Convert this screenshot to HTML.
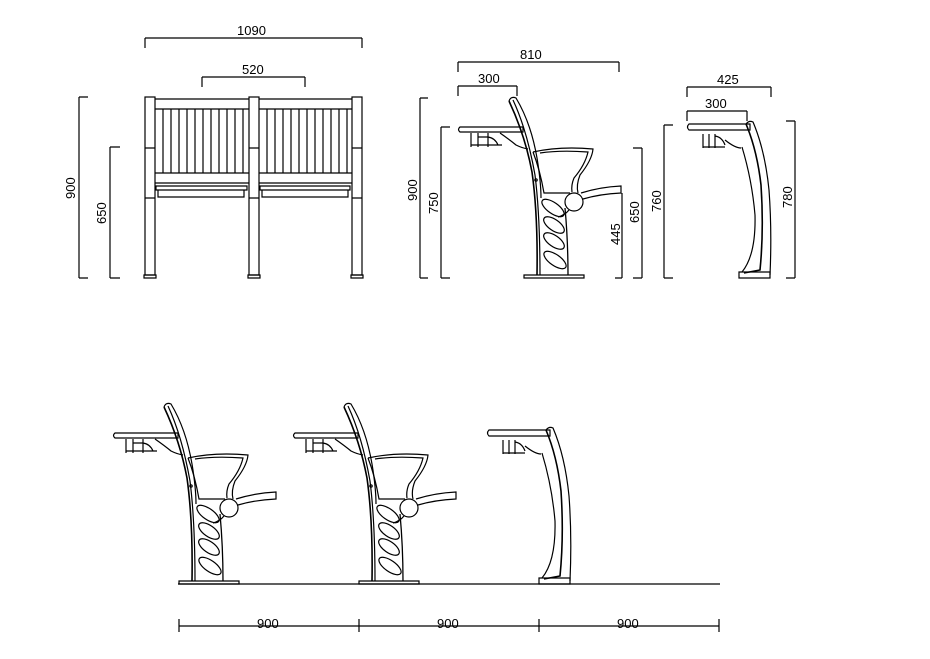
<!DOCTYPE html>
<html><head><style>
html,body{margin:0;padding:0;background:#fff;}
svg{display:block;}
text{font-family:"Liberation Sans",sans-serif;font-size:13px;fill:#000;}
</style></head><body>
<svg width="930" height="659" viewBox="0 0 930 659" xmlns="http://www.w3.org/2000/svg" fill="none" stroke="#000" stroke-width="1.2">
<defs>
<g id="chair">
  <!-- desk -->
  <path d="M460,127 H523 V132 H460 Q457,129.5 460,127 Z"/>
  <path d="M471,133 V147 M478,133 V147 M488,133 V147 M471,145 H502 M478,137 H488 Q495,138 498,145 M500,133 Q510,140 516,145 Q522,148 528,149"/>
  <!-- back / leg -->
  <path d="M509,101 Q511,96 516,98 Q531,123 537,158 Q541,182 541,198"/>
  <path d="M509,101 Q525,135 532,172 Q538,215 537,275" stroke-width="1.6"/>
  <path d="M513,100 Q527,130 535,175 Q540,215 540,275"/>
  <path d="M565,208 Q568,240 568,275" stroke-width="1.3"/>
  <!-- base -->
  <path d="M524,275 H584 V278 H524 Z"/>
  <!-- seat -->
  <path d="M533,152 Q560,146 593,149 Q592,160 580,175 Q576,185 578,193 M533,152 Q540,170 544,193 H570"/>
  <path d="M540,153 Q560,150 588,152 Q585,165 574,178 Q571,185 572,192"/>
  <!-- arm -->
  <path d="M581,193 Q600,187 621,186 V193 Q600,194 583,199"/>
  <circle cx="574" cy="202" r="9"/>
  <path d="M569,210 Q565,215 558,217"/>
  <!-- ovals -->
  <ellipse cx="553" cy="208" rx="13" ry="5.5" transform="rotate(35 553 208)"/>
  <ellipse cx="554" cy="225" rx="12" ry="5.5" transform="rotate(35 554 225)"/>
  <ellipse cx="554" cy="241" rx="12" ry="5.5" transform="rotate(35 554 241)"/>
  <ellipse cx="555" cy="260" rx="13" ry="5.5" transform="rotate(35 555 260)"/>
  <circle cx="536" cy="180" r="1.2"/>
</g>
<g id="desk">
  <path d="M689,124 H750 V130 H689 Q686,127 689,124 Z"/>
  <path d="M703,134 V148 M709,134 V148 M715,134 V148 M703,147 H725 M715,136 Q722,137 725,145 M725,140 Q735,148 741,148"/>
  <path d="M746,124 Q749,120 753,122 Q765,150 769,190 Q772,230 770,275"/>
  <path d="M746,124 Q757,150 761,185 Q764,230 760,270 L744,273" stroke-width="1.6"/>
  <path d="M742,147 Q752,180 755,215 Q756,255 742,272"/>
  <path d="M739,272 H770 V278 H739 Z"/>
</g>
</defs>

<!-- FRONT VIEW -->
<g>
  <rect x="145" y="97" width="10" height="178"/>
  <rect x="249" y="97" width="10" height="178"/>
  <rect x="352" y="97" width="10" height="178"/>
  <path d="M144,275 H156 V278 H144Z M248,275 H260 V278 H248Z M351,275 H363 V278 H351Z"/>
  <path d="M145,148 H155 M249,148 H259 M352,148 H362 M145,198 H155 M249,198 H259 M352,198 H362"/>
  <path d="M155,99 H249 M155,109 H249 M155,173 H249 M155,183 H249 M259,99 H352 M259,109 H352 M259,173 H352 M259,183 H352"/>
  <path d="M163,109V173 M171,109V173 M179,109V173 M187,109V173 M195,109V173 M203,109V173 M211,109V173 M219,109V173 M227,109V173 M235,109V173 M243,109V173
           M267,109V173 M275,109V173 M283,109V173 M291,109V173 M299,109V173 M307,109V173 M315,109V173 M323,109V173 M331,109V173 M339,109V173 M347,109V173"/>
  <path d="M156,186 H247 V190 H156Z M158,190 H244 V197 H158Z M260,186 H350 V190 H260Z M262,190 H348 V197 H262Z"/>
</g>

<!-- dims front -->
<path d="M145,38 H362 M145,38 V48 M362,38 V48 M202,77 H305 M202,77 V87 M305,77 V87 M79,97 V278 M79,97 H88 M79,278 H88 M110,147 V278 M110,147 H120 M110,278 H120"/>
<text x="237" y="35" stroke="none">1090</text>
<text x="242" y="74" stroke="none">520</text>
<text stroke="none" transform="translate(75,199) rotate(-90)">900</text>
<text stroke="none" transform="translate(106,224) rotate(-90)">650</text>

<!-- side chair top -->
<use href="#chair"/>
<path d="M458,62 H619 M458,62 V72 M619,62 V72 M458,86 H517 M458,86 V96 M517,86 V96 M420,98 V278 M420,98 H428 M420,278 H428 M441,127 V278 M441,127 H450 M441,278 H450 M642,148 V278 M642,148 H633 M642,278 H633 M622,193 V278 M622,278 H615"/>
<text x="520" y="59" stroke="none">810</text>
<text x="478" y="83" stroke="none">300</text>
<text stroke="none" transform="translate(417,201) rotate(-90)">900</text>
<text stroke="none" transform="translate(438,214) rotate(-90)">750</text>
<text stroke="none" transform="translate(639,223) rotate(-90)">650</text>
<text stroke="none" transform="translate(620,245) rotate(-90)">445</text>

<!-- desk-only top -->
<use href="#desk"/>
<path d="M687,87 H771 M687,87 V97 M771,87 V97 M687,111 H747 M687,111 V121 M747,111 V121 M664,125 V278 M664,125 H673 M664,278 H673 M795,121 V278 M795,121 H786 M795,278 H786"/>
<text x="717" y="84" stroke="none">425</text>
<text x="705" y="108" stroke="none">300</text>
<text stroke="none" transform="translate(661,212) rotate(-90)">760</text>
<text stroke="none" transform="translate(792,208) rotate(-90)">780</text>

<!-- bottom row -->
<use href="#chair" transform="translate(-345,306)"/>
<use href="#chair" transform="translate(-165,306)"/>
<use href="#desk" transform="translate(-200,306)"/>
<path d="M178,584 H720"/>
<path d="M179,626 H719 M179,619 V632 M359,619 V632 M539,619 V632 M719,619 V632"/>
<text x="257" y="628" stroke="none">900</text>
<text x="437" y="628" stroke="none">900</text>
<text x="617" y="628" stroke="none">900</text>
</svg>
</body></html>
